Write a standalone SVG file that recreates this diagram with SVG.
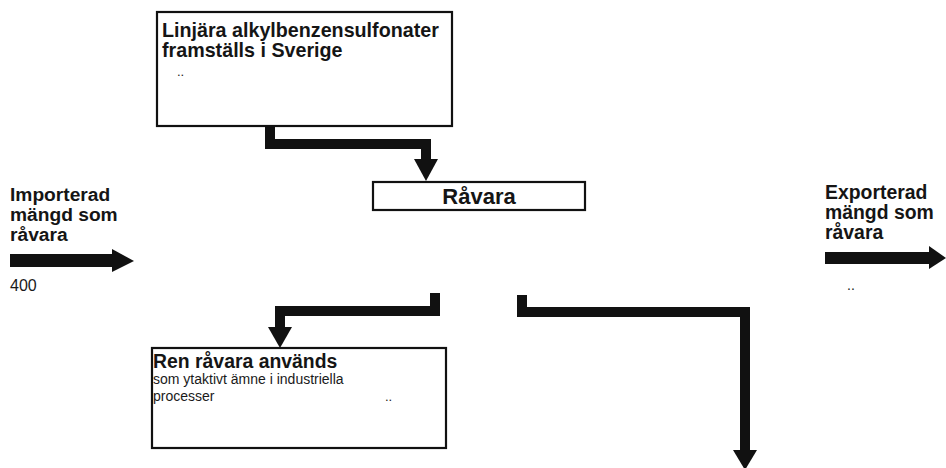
<svg xmlns="http://www.w3.org/2000/svg" width="946" height="468" viewBox="0 0 946 468">
<style>
.box{fill:#fff;stroke:#111;stroke-width:2.2}
.b{font-family:"Liberation Sans",Arial,sans-serif;font-weight:bold;fill:#151515}
.r{font-family:"Liberation Sans",Arial,sans-serif;fill:#1a1a1a}
.conn{fill:none;stroke:#111;stroke-width:10;stroke-linejoin:miter;stroke-linecap:butt}
.head{fill:#111}
</style>
<rect width="946" height="468" fill="#fff"/>
<g id="connectors">
<path class="conn" d="M270 126 V144 H426 V162"/>
<polygon class="head" points="414,159 438,159 426,181"/>
<path class="conn" d="M435 293 V311 H280 V329"/>
<polygon class="head" points="268,327 292,327 280,348"/>
<path class="conn" d="M522 295 V312 H745 V452"/>
<polygon class="head" points="733,450 757,450 745,470"/>
<rect x="10" y="254" width="104" height="13" fill="#111"/>
<polygon class="head" points="112,249 112,272 134,261"/>
<rect x="825" y="252" width="106" height="12" fill="#111"/>
<polygon class="head" points="929,246 929,269 946,258"/>
</g>
<g id="node-linjara">
<rect class="box" x="157" y="12" width="295" height="114"/>
<text class="b" x="162" y="37" font-size="19.7">Linjära alkylbenzensulfonater</text>
<text class="b" x="162" y="57" font-size="19.7">framställs i Sverige</text>
<text class="r" x="177" y="76" font-size="13">..</text>
</g>
<g id="node-ravara">
<rect class="box" x="373" y="182" width="212" height="28"/>
<text class="b" x="479" y="204" font-size="22" text-anchor="middle">Råvara</text>
</g>
<g id="node-import">
<text class="b" x="10" y="201" font-size="19.2">Importerad</text>
<text class="b" x="10" y="221" font-size="19.2">mängd som</text>
<text class="b" x="10" y="241" font-size="19.2">råvara</text>
<text class="r" x="10" y="291" font-size="16">400</text>
</g>
<g id="node-export">
<text class="b" x="825" y="199" font-size="19.4">Exporterad</text>
<text class="b" x="825" y="219" font-size="19.4">mängd som</text>
<text class="b" x="825" y="239" font-size="19.4">råvara</text>
<text class="r" x="847" y="290" font-size="14">..</text>
</g>
<g id="node-ren">
<rect class="box" x="152" y="348" width="294" height="100"/>
<text class="b" x="153" y="368" font-size="19.4">Ren råvara används</text>
<text class="r" x="153" y="384" font-size="14">som ytaktivt ämne i industriella</text>
<text class="r" x="153" y="401" font-size="14">processer</text>
<text class="r" x="385" y="401" font-size="13">..</text>
</g>
</svg>
